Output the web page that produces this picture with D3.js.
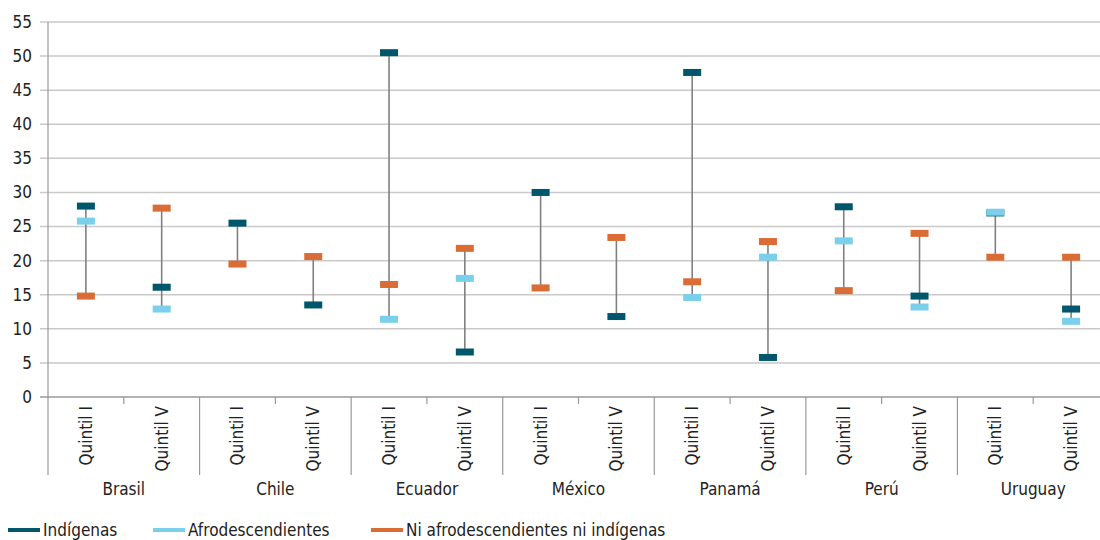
<!DOCTYPE html>
<html>
<head>
<meta charset="utf-8">
<script src="https://cdn.jsdelivr.net/npm/d3@7"></script>
<style>
  body { margin: 0; background: #fff; }
  svg text { font-family: "Liberation Sans Narrow", "DejaVu Sans Condensed", "Roboto", sans-serif; fill: #222; }
</style>
</head>
<body>
<div id="chart"></div>
<script>
var countries = ["Brasil", "Chile", "Ecuador", "México", "Panamá", "Perú", "Uruguay"];
var quintiles = ["Quintil I", "Quintil V"];
var yTicks = [0, 5, 10, 15, 20, 25, 30, 35, 40, 45, 50, 55];

// one value per slot (country x quintile), null when absent
var indigenas = [28.0, 16.1, 25.5, 13.5, 50.5, 6.6, 30.0, 11.8, 47.6, 5.8, 27.9, 14.8, 27.0, 12.9];
var afro      = [25.8, 12.9, null, null, 11.4, 17.4, null, null, 14.6, 20.5, 22.9, 13.2, 27.1, 11.1];
var niNi      = [14.8, 27.7, 19.5, 20.6, 16.5, 21.8, 16.0, 23.4, 16.9, 22.8, 15.6, 24.0, 20.5, 20.5];

var seriesNames = ["Indígenas", "Afrodescendientes", "Ni afrodescendientes ni indígenas"];
var seriesColors = ["#00566a", "#7acfea", "#da6d35"];

var margin = {left: 48, top: 22},
    plotW = 1061, plotH = 375;

var slots = [];
countries.forEach(function(c, ci){
    quintiles.forEach(function(q, qi){
        slots.push({country: c, quintil: q, idx: ci * 2 + qi});
    });
});

var svg = d3.select("#chart").append("svg")
    .attr("width", 1100).attr("height", 540);

var x = d3.scaleBand().domain(d3.range(slots.length)).range([0, plotW]);
var y = d3.scaleLinear().domain([0, 55]).range([plotH, 0]);

var g = svg.append("g").attr("transform", "translate(" + margin.left + "," + margin.top + ")");

// gridlines
g.selectAll(".grid").data(yTicks).enter().append("line")
    .attr("x1", -8).attr("x2", plotW)
    .attr("y1", function(d){ return y(d); }).attr("y2", function(d){ return y(d); })
    .attr("stroke", function(d){ return d === 0 ? "#999" : "#c9c9c9"; })
    .attr("stroke-width", 1.5);

g.append("line").attr("x1", 0).attr("x2", 0).attr("y1", 0).attr("y2", plotH + 78)
    .attr("stroke", "#999").attr("stroke-width", 1.2);

g.selectAll(".ylab").data(yTicks).enter().append("text")
    .attr("x", -16).attr("y", function(d){ return y(d); }).attr("dy", "0.35em")
    .attr("text-anchor", "end").style("font-size", "17px")
    .text(function(d){ return d; });

// category axis
slots.forEach(function(s){
    var x0 = x(s.idx), xc = x0 + x.bandwidth() / 2;
    if (s.idx % 2 === 0 && s.idx > 0) {
        g.append("line").attr("x1", x0).attr("x2", x0).attr("y1", plotH).attr("y2", plotH + 78)
            .attr("stroke", "#999").attr("stroke-width", 1.2);
    } else if (s.idx % 2 === 1) {
        g.append("line").attr("x1", x0).attr("x2", x0).attr("y1", plotH).attr("y2", plotH + 7)
            .attr("stroke", "#999").attr("stroke-width", 1.2);
    }
    g.append("text")
        .attr("transform", "translate(" + (xc + 6) + "," + (plotH + 9) + ") rotate(-90)")
        .attr("text-anchor", "end").style("font-size", "17px")
        .text(s.quintil);
});
countries.forEach(function(c, ci){
    g.append("text")
        .attr("x", x(ci * 2) + x.bandwidth()).attr("y", plotH + 98)
        .attr("text-anchor", "middle").style("font-size", "17px")
        .text(c);
});

// range lines
var allSeries = [indigenas, afro, niNi];
slots.forEach(function(s){
    var vals = allSeries.map(function(a){ return a[s.idx]; }).filter(function(v){ return v !== null; });
    var xc = x(s.idx) + x.bandwidth() / 2;
    g.append("line").attr("x1", xc).attr("x2", xc)
        .attr("y1", y(d3.max(vals))).attr("y2", y(d3.min(vals)))
        .attr("stroke", "#808080").attr("stroke-width", 1.6);
});

// markers
allSeries.forEach(function(arr, si){
    arr.forEach(function(v, i){
        if (v === null) return;
        g.append("rect")
            .attr("x", x(i) + x.bandwidth() / 2 - 9)
            .attr("y", y(v) - 3.5)
            .attr("width", 18).attr("height", 7)
            .attr("fill", seriesColors[si]);
    });
});

// legend
var legX = [8, 153, 371];
var legend = svg.append("g");
seriesNames.forEach(function(n, i){
    legend.append("line").attr("x1", legX[i]).attr("x2", legX[i] + 32)
        .attr("y1", 530).attr("y2", 530)
        .attr("stroke", seriesColors[i]).attr("stroke-width", 4);
    legend.append("text").attr("x", legX[i] + 35).attr("y", 536)
        .style("font-size", "17px").text(n);
});
</script>
</body>
</html>
